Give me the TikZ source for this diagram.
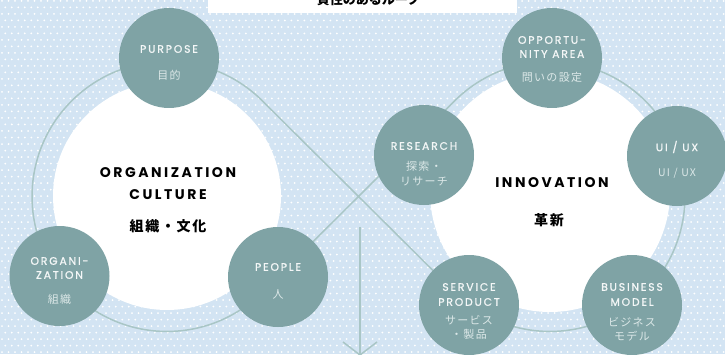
\documentclass[tikz,border=0pt]{standalone}
\usepackage{fontspec}
\setmainfont{Poppins}
\newfontfamily\titlefont[LetterSpace=18]{Poppins}
\newfontfamily\lblfont[LetterSpace=17, FakeBold=1]{Poppins}
\newfontfamily\jpsp[LetterSpace=12]{Noto Sans CJK JP}
\newfontfamily\jpfont{Noto Sans CJK JP}
\definecolor{bgc}{HTML}{D3E4F3}
\definecolor{tealc}{HTML}{7FA3A5}
\definecolor{ringc}{HTML}{A9C6C6}
\definecolor{lblc}{HTML}{F4F7F7}
\definecolor{jlblc}{HTML}{DCE8E8}
\tikzset{
  tealcirc/.style={circle, fill=tealc, minimum size=100pt, inner sep=0pt},
  whitecirc/.style={circle, fill=white, inner sep=0pt},
  lbl/.style={text=lblc, font=\lblfont\fontsize{10.8}{11}\selectfont, inner sep=0pt},
  jlbl/.style={text=jlblc, font=\jpsp\fontsize{11}{12}\selectfont, inner sep=0pt},
  ttl/.style={text=black, font=\titlefont\bfseries\fontsize{14}{15}\selectfont, inner sep=0pt},
  jttl/.style={text=black, font=\jpsp\bfseries\fontsize{14}{15}\selectfont, inner sep=0pt},
  ringline/.style={draw=ringc, line width=1.5pt},
}
\begin{document}
\begin{tikzpicture}[x=1pt,y=1pt]
\useasboundingbox (0,0) rectangle (725,354);
\clip (0,0) rectangle (725,354);
% background
\fill[bgc] (0,0) rectangle (725,354);
\foreach \j in {0,...,54}{
  \pgfmathsetmacro{\off}{mod(\j,2)*3.25}
  \foreach \i in {0,...,111}{
    \fill[white] (2+\off+\i*6.5,2+\j*6.5) circle (1.0);
  }
}
% infinity loop
\draw[ringline] (262.5,253) arc[start angle=45, end angle=315, radius=135]
  -- (454.5,253) arc[start angle=135, end angle=-135, radius=135] -- cycle;
% down arrow
\coordinate (atop) at (360,127);
\coordinate (atip) at (360,-1);
\coordinate (al) at (343,12);
\coordinate (ar) at (377,12);
\draw[ringline] (atop) -- (atip);
\draw[ringline] (al) -- (atip) -- (ar);
% top box
\node[fill=white, minimum width=309pt, minimum height=13pt, inner sep=0pt, anchor=south west] (topbox) at (208,341) {};
\node[text=black, font=\jpfont\bfseries\fontsize{13}{14}\selectfont, inner sep=0pt] (toptext) at (362,354) {一貫性のあるループ};
% big white circles
\node[whitecirc, minimum size=228pt] (culture) at (167,158) {};
\node[whitecirc, minimum size=240pt] (innov) at (550,162) {};
\node[ttl] (t1) at (168,181) {ORGANIZATION};
\node[ttl] (t2) at (168,159.5) {CULTURE};
\node[jttl] (t3) at (168,128) {組織・文化};
\node[ttl] (t4) at (552,171) {INNOVATION};
\node[jttl] (t5) at (549,134) {革新};
% small circles
\node[tealcirc] (pur) at (169,296) {};
\node[lbl] at ([yshift=9pt]pur.center) {PURPOSE};
\node[jlbl] at ([yshift=-17pt]pur.center) {目的};

\node[tealcirc] (org) at (59.5,78) {};
\node[lbl] at ([yshift=15pt]org.center) {ORGANI-};
\node[lbl] at ([yshift=1pt]org.center) {ZATION};
\node[jlbl] at ([yshift=-23pt]org.center) {組織};

\node[tealcirc] (peo) at (278,77) {};
\node[lbl] at ([yshift=10pt]peo.center) {PEOPLE};
\node[jlbl] at ([yshift=-17pt]peo.center) {人};

\node[tealcirc] (opp) at (552,296) {};
\node[lbl] at ([yshift=18pt]opp.center) {OPPORTU-};
\node[lbl] at ([yshift=4pt]opp.center) {NITY AREA};
\node[jlbl] at ([yshift=-19pt]opp.center) {問いの設定};

\node[tealcirc] (res) at (424,199) {};
\node[lbl] at ([yshift=9pt]res.center) {RESEARCH};
\node[jlbl] at ([yshift=-11pt]res.center) {探索・};
\node[jlbl] at ([yshift=-26pt]res.center) {リサーチ};

\node[tealcirc] (uiux) at (677,198) {};
\node[lbl] at ([yshift=9pt]uiux.center) {UI / UX};
\node[jlbl, font=\jpsp\fontsize{10.5}{11}\selectfont] at ([yshift=-17pt]uiux.center) {UI / UX};

\node[tealcirc] (serv) at (469,49) {};
\node[lbl] at ([yshift=18pt]serv.center) {SERVICE};
\node[lbl] at ([yshift=3pt]serv.center) {PRODUCT};
\node[jlbl] at ([yshift=-15pt]serv.center) {サービス};
\node[jlbl] at ([yshift=-29pt]serv.center) {・製品};

\node[tealcirc] (bus) at (632,49) {};
\node[lbl] at ([yshift=18pt]bus.center) {BUSINESS};
\node[lbl] at ([yshift=3pt]bus.center) {MODEL};
\node[jlbl] at ([yshift=-17pt]bus.center) {ビジネス};
\node[jlbl] at ([yshift=-31pt]bus.center) {モデル};
\end{tikzpicture}
\end{document}
